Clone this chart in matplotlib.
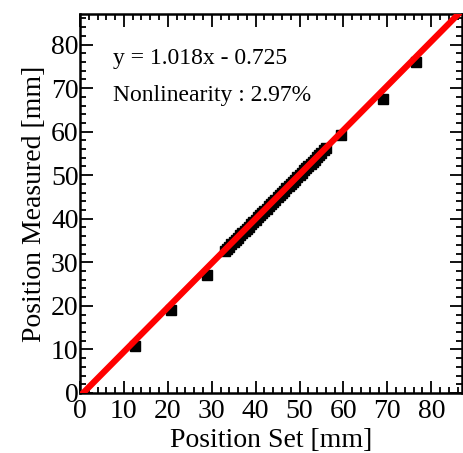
import matplotlib
matplotlib.use("Agg")
import matplotlib.pyplot as plt
import numpy as np
from matplotlib.ticker import MultipleLocator

plt.rcParams['font.family'] = ['Liberation Serif', 'DejaVu Serif']

pos_set = [12.5, 20.7, 29.0,
           33.0, 33.5, 34.0, 34.5, 35.0, 35.5, 36.0, 36.5, 37.0, 37.5, 38.0, 38.5,
           39.0, 39.5, 40.0, 40.5, 41.0, 41.5, 42.0, 42.5, 43.0, 43.5, 44.0, 44.5,
           45.0, 45.5, 46.0, 46.5, 47.0, 47.5, 48.0, 48.5, 49.0, 49.5, 50.0, 50.5,
           51.0, 51.5, 52.0, 52.5, 53.0, 53.5, 54.0, 54.5, 55.0, 55.5, 56.0,
           59.5, 69.1, 76.6]
pos_meas = [10.8, 19.0, 27.1,
            32.6, 33.1, 33.6, 34.1, 34.6, 35.1, 35.6, 36.2, 36.7, 37.2, 37.7, 38.2,
            38.8, 39.2, 39.8, 40.3, 40.8, 41.3, 41.8, 42.3, 42.9, 43.4, 43.9, 44.4,
            44.9, 45.4, 45.9, 46.4, 47.0, 47.5, 48.0, 48.5, 49.0, 49.5, 50.0, 50.6,
            51.1, 51.6, 52.1, 52.6, 53.1, 53.6, 54.2, 54.7, 55.2, 55.7, 56.2,
            59.2, 67.4, 75.9]
slope = 1.018
intercept = -0.725
fit_x = [0, 87]

fig = plt.figure(figsize=(4.64, 4.53), dpi=100)
ax = fig.add_axes([0.1724, 0.1325, 0.8233, 0.8365])

ax.plot(pos_set, pos_meas, 's', color='black', markersize=7, zorder=2)
fx = np.array(fit_x)
ax.plot(fx, slope * fx + intercept, '-', color='#ff0000', lw=4.5, zorder=3,
        solid_capstyle='butt')

ax.set_xlim(0, 87)
ax.set_ylim(0, 87)
ax.xaxis.set_major_locator(MultipleLocator(10))
ax.yaxis.set_major_locator(MultipleLocator(10))
ax.xaxis.set_minor_locator(MultipleLocator(2))
ax.yaxis.set_minor_locator(MultipleLocator(2))
ax.tick_params(which='both', direction='in', top=True, right=True, width=1.3,
               labelsize=20)
ax.tick_params(axis='x', pad=4)
ax.tick_params(axis='y', pad=1)
ax.tick_params(which='major', length=9)
ax.tick_params(which='minor', length=4.5)
for s in ax.spines.values():
    s.set_linewidth(1.8)

ax.set_xlabel('Position Set [mm]', fontsize=20, labelpad=3)
ax.set_ylabel('Position Measured [mm]', fontsize=20, labelpad=3)

ax.text(7.5, 76.8, 'y = 1.018x - 0.725', fontsize=17, va='center', ha='left')
ax.text(7.5, 68.3, 'Nonlinearity : 2.97%', fontsize=17, va='center', ha='left')

fig.savefig('out.png', dpi=100)
